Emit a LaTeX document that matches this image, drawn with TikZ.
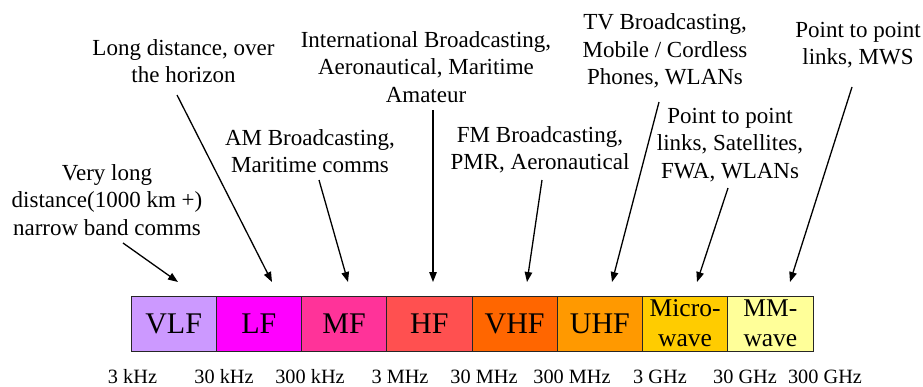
\documentclass[tikz,border=0pt]{standalone}
\usepackage{fontspec}
\setmainfont{Liberation Serif}
\usetikzlibrary{arrows.meta}
\definecolor{cVLF}{HTML}{CC99FF}
\definecolor{cLF}{HTML}{FF00FF}
\definecolor{cMF}{HTML}{FF3399}
\definecolor{cHF}{HTML}{FF5050}
\definecolor{cVHF}{HTML}{FF6600}
\definecolor{cUHF}{HTML}{FF9900}
\definecolor{cMW}{HTML}{FFCC00}
\definecolor{cMM}{HTML}{FFFF99}
\tikzset{
  band/.style={draw=black!85, line width=0.8pt, minimum width=85.25pt, minimum height=55pt, inner sep=0pt, font=\fontsize{30}{34}\selectfont},
  band2/.style={band, align=center, font=\fontsize{25.5}{30}\selectfont},
  desc/.style={align=center, inner sep=0pt, font=\fontsize{23}{27.5}\selectfont},
  freq/.style={inner sep=0pt, font=\fontsize{20.3}{24}\selectfont},
  arr/.style={-{Triangle[length=10pt,width=7.5pt]}, line width=1.3pt, shorten >=0pt}
}
\begin{document}
\begin{tikzpicture}[x=1pt,y=-1pt]
\useasboundingbox (0,0) rectangle (923,386);
% bands
\node[band, fill=cVLF] (vlf) at (173.6,323.5) {VLF};
\node[band, fill=cLF] (lf) at (258.9,323.5) {LF};
\node[band, fill=cMF] (mf) at (344.1,323.5) {MF};
\node[band, fill=cHF] (hf) at (429.4,323.5) {HF};
\node[band, fill=cVHF] (vhf) at (514.6,323.5) {VHF};
\node[band, fill=cUHF] (uhf) at (599.9,323.5) {UHF};
\node[band2, fill=cMW] (mw) at (685.1,323.5) {Micro-\\wave};
\node[band2, fill=cMM] (mm) at (770.4,323.5) {MM-\\wave};
% frequencies
\node[freq] (f1) at (132.5,376.5) {3 kHz};
\node[freq] (f2) at (224,376.5) {30 kHz};
\node[freq] (f3) at (310,376.5) {300 kHz};
\node[freq] (f4) at (400,376.5) {3 MHz};
\node[freq] (f5) at (484,376.5) {30 MHz};
\node[freq] (f6) at (572,376.5) {300 MHz};
\node[freq] (f7) at (660,376.5) {3 GHz};
\node[freq] (f8) at (745,376.5) {30 GHz};
\node[freq] (f9) at (825,376.5) {300 GHz};
% descriptions
\node[desc] (dvlf) at (107,200) {Very long\\distance(1000 km +)\\narrow band comms};
\node[desc] (dlf) at (183.5,61) {Long distance, over\\the horizon};
\node[desc] (dmf) at (310,151) {AM Broadcasting,\\Maritime comms};
\node[desc] (dhf) at (426,67) {International Broadcasting,\\Aeronautical, Maritime\\Amateur};
\node[desc] (dvhf) at (540,150) {FM Broadcasting,\\PMR, Aeronautical};
\node[desc] (duhf) at (665,51) {TV Broadcasting,\\Mobile / Cordless\\Phones, WLANs};
\node[desc] (dmw) at (730,145) {Point to point\\links, Satellites,\\FWA, WLANs};
\node[desc] (dmm) at (858,45) {Point to point\\links, MWS};
% arrow ends
\coordinate (s1) at (123,243); \coordinate (t1) at (178,282);
\coordinate (s2) at (177,95);  \coordinate (t2) at (272,282);
\coordinate (s3) at (319,180); \coordinate (t3) at (348,282);
\coordinate (s4) at (433,110); \coordinate (t4) at (433,282);
\coordinate (s5) at (542,180); \coordinate (t5) at (527,282);
\coordinate (s6) at (659,102); \coordinate (t6) at (612,282);
\coordinate (s7) at (728,188); \coordinate (t7) at (697,282);
\coordinate (s8) at (852,87);  \coordinate (t8) at (790,282);
\foreach \i in {1,...,8} { \draw[arr] (s\i) -- (t\i); }
\end{tikzpicture}
\end{document}
